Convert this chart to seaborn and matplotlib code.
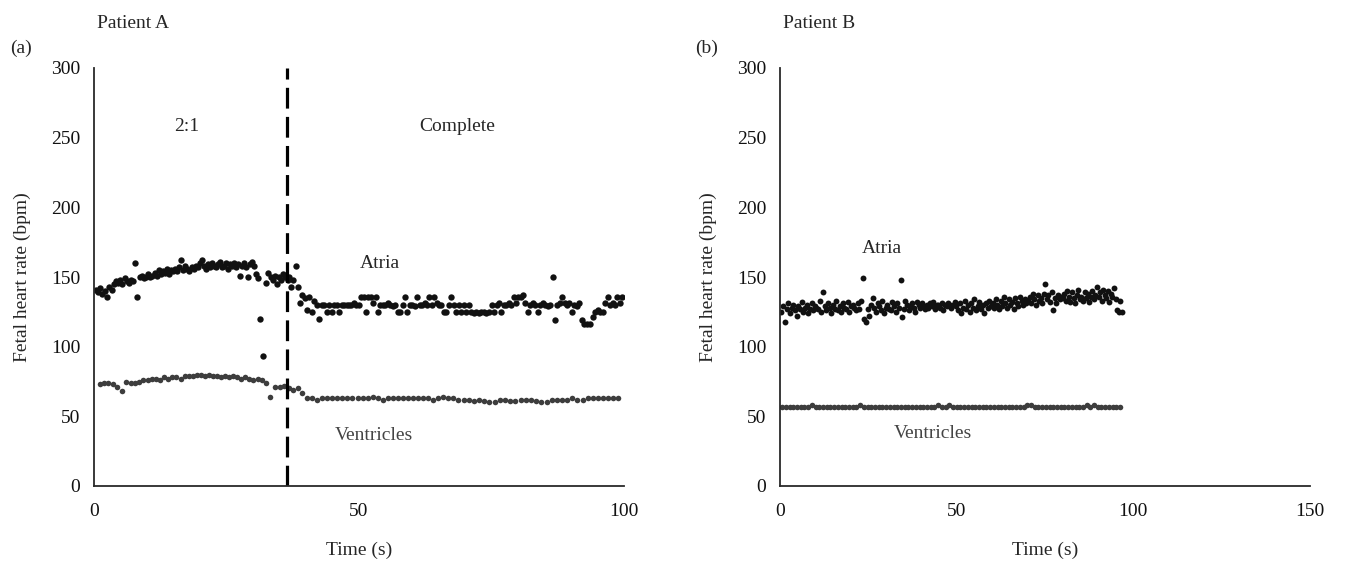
import numpy as np
import pandas as pd
import matplotlib
matplotlib.use("Agg")
import matplotlib.pyplot as plt
import seaborn as sns

# ---------------- data (instantaneous rates in bpm, read beat by beat) ----------------
# Patient A - atria during 2:1 block
a_atria_21 = [141, 139, 142, 138, 140, 136, 143, 141, 145,
              147, 146, 148, 145, 149, 147, 146, 148, 147,
              160, 136,
              150, 151, 149, 150, 152, 150, 151,
              153, 151, 155, 152, 154, 153, 156, 152, 155, 154,
              156, 154, 157, 162, 155, 158, 156, 154, 157, 156,
              158, 157, 160, 162, 158, 156, 159, 157, 160, 158, 157, 159, 161, 157, 158, 160, 156, 159,
              158, 160, 157, 159, 151, 158, 160, 157, 150, 159, 161, 158, 152,
              149, 120, 93,
              146, 153, 150, 148, 151, 145, 150, 148, 152, 150, 148]
# Patient A - atria during complete block
a_atria_cb = [150, 143, 148, 158, 143, 131,
              137, 135, 126, 136, 125, 133, 130, 120,
              130, 130, 125, 130, 125, 130, 130, 125, 130, 130, 130, 130, 130, 131, 130, 130,
              136, 136, 125, 136, 136, 131, 136, 125, 130,
              130, 130, 131, 130, 129, 130, 125, 125, 130, 136, 125, 130, 130, 129,
              136, 130, 130, 131, 130, 136, 130, 136, 131, 130, 130, 125, 125, 130,
              136, 130, 125, 130, 125, 130, 125, 130, 125, 124, 125, 124, 125, 125,
              124, 125, 130, 125, 130, 131, 125, 130,
              130, 131, 130, 136, 131, 136, 136, 137, 131, 125, 130, 131, 130, 125,
              130, 131, 130, 129, 130,
              150, 119,
              130, 131, 136, 131, 130, 131, 125, 130, 129, 131, 119, 116, 116, 116,
              121, 125, 126, 125, 125, 131, 136, 130, 131, 130, 136, 131, 136]
# Patient A - ventricles
a_vent = [73, 74, 74, 73, 71, 68, 75, 74, 74, 75, 76, 76, 77, 77, 76, 78, 77, 78, 78, 77,
          79, 79, 79, 80, 80, 79, 80, 79, 79, 78, 79, 78, 79, 78, 77, 78, 77, 76, 77, 76,
          74, 64, 71, 71, 72,
          70, 69, 70, 67,
          63, 63, 62, 63, 63, 63, 63, 63, 63, 63, 63, 63, 63, 64, 63, 62, 63, 63, 63, 63,
          63, 63, 63, 63, 63, 62, 63, 64, 63, 63, 62, 62, 62, 61, 62, 61, 60, 60, 62, 62,
          61, 61, 62, 62, 62, 61, 60, 60, 62, 62, 62, 62, 63, 62, 62, 63, 63, 63, 63, 63, 63, 63]

# Patient B - atria
b_atria = [125, 129, 118, 127, 131, 124, 128, 130, 126, 122, 129, 127, 132, 125, 128, 130, 124, 127, 131, 126, 129, 128,
           127, 133, 125, 139, 129, 126, 131, 128, 124, 130, 127, 133, 126, 129, 125, 131, 128, 127, 132, 125, 129, 130,
           128, 126, 131, 127, 133, 149, 120, 118, 127, 122, 130, 135, 128, 125, 131, 129, 126, 133, 124, 128, 130, 127,
           126, 132, 129, 125, 131, 128, 148, 121, 127, 133, 130, 126, 129, 131, 128, 125, 132, 130, 128, 131, 129, 127,
           130, 128, 131, 129, 132, 127, 130, 130, 128, 131, 126, 130, 129, 131, 130, 128, 130, 132,
           129, 126, 131, 124, 128, 133, 127, 130, 125, 131, 128, 134, 126, 129, 132, 127, 130, 124, 131, 128, 133, 129,
           131, 128, 134, 130, 127, 133, 129, 136, 131, 128, 134, 130, 132, 127, 135, 131, 129, 136, 133, 130, 134, 131,
           133, 136, 131, 138, 134, 130, 137, 133, 135, 131, 138, 145, 134, 137, 132, 139, 126, 135, 131, 137, 134, 136,
           135, 138, 133, 140, 136, 132, 139, 135, 131, 137, 141, 134, 136, 133, 139, 135, 138, 132, 136, 140, 134, 137,
           143, 136, 139, 133, 141, 137, 135, 140, 132, 138, 136, 142, 134, 126, 125, 133, 125]
# Patient B - ventricles
b_vent = [57] * 8 + [58] + [57] * 12 + [58] + [57] * 20 + [58, 57, 57, 58] + [57] * 20 + [58, 58] + [57] * 14 + [58, 57, 58] + [57] * 7

block_change_s = 36.4
x_ticks_a = [0, 50, 100]
x_ticks_b = [0, 50, 100, 150]
y_ticks = [0, 50, 100, 150, 200, 250, 300]


def beat_times(t0, rates):
    """Time of each beat: successive beats are separated by 60/rate seconds."""
    r = np.asarray(rates, dtype=float)
    return t0 + np.concatenate([[0.0], np.cumsum(60.0 / r[:-1])])


def frame(t0, rates, label):
    return pd.DataFrame({"t": beat_times(t0, rates), "bpm": rates, "chamber": label})


dfA_atria = pd.concat([frame(0.3, a_atria_21, "Atria"), frame(36.8, a_atria_cb, "Atria")])
dfA_vent = frame(1.1, a_vent, "Ventricles")
dfB_atria = frame(0.4, b_atria, "Atria")
dfB_vent = frame(0.6, b_vent, "Ventricles")

# ---------------- style ----------------
sns.set_style("white")
plt.rcParams["font.family"] = ["Liberation Serif", "DejaVu Serif"]
plt.rcParams["font.size"] = 13

AXC = "#2a2a2a"
ATRIA_C = "#111111"
VENT_C = "#3d3d3d"

fig = plt.figure(figsize=(13.45, 5.63), dpi=100)
W, H = 1345, 563
axA = fig.add_axes([94 / W, 1 - 486 / H, (624 - 94) / W, (486 - 68) / H])
axB = fig.add_axes([780 / W, 1 - 486 / H, (1310 - 780) / W, (486 - 68) / H])

sns.scatterplot(data=dfA_atria, x="t", y="bpm", ax=axA, color=ATRIA_C, s=21, linewidth=0, legend=False)
sns.scatterplot(data=dfA_vent, x="t", y="bpm", ax=axA, color=VENT_C, s=16, linewidth=0, legend=False)
sns.scatterplot(data=dfB_atria, x="t", y="bpm", ax=axB, color=ATRIA_C, s=18, linewidth=0, legend=False)
sns.scatterplot(data=dfB_vent, x="t", y="bpm", ax=axB, color=VENT_C, s=16, linewidth=0, legend=False)

axA.plot([block_change_s, block_change_s], [0, 300], color="black", lw=2.3, dashes=(6.5, 2.6), zorder=1)

for ax, xt, xmax in [(axA, x_ticks_a, 100), (axB, x_ticks_b, 150)]:
    ax.set_xlim(0, xmax)
    ax.set_ylim(0, 300)
    ax.set_xticks(xt)
    ax.set_yticks(y_ticks)
    for side in ["top", "right"]:
        ax.spines[side].set_visible(False)
    for side in ["left", "bottom"]:
        ax.spines[side].set_color(AXC)
        ax.spines[side].set_linewidth(1.3)
    ax.tick_params(axis="both", direction="in", length=4, width=1.1, color=AXC,
                   labelsize=14, labelcolor="#111111")
    ax.tick_params(axis="y", pad=10)
    ax.tick_params(axis="x", pad=12)
    ax.set_xlabel("Time (s)", fontsize=14)
    ax.set_ylabel("Fetal heart rate (bpm)", fontsize=14)
    ax.xaxis.set_label_coords(0.5, -0.155)
    ax.xaxis.label.set_va("center")
    ax.yaxis.set_label_coords(-0.136, 0.5)
    ax.yaxis.label.set_va("center")
    ax.set_facecolor("white")

axA.text(17.5, 258, "2:1", ha="center", va="center", fontsize=14)
axA.text(68.5, 258, "Complete", ha="center", va="center", fontsize=14)
axA.text(54.0, 160, "Atria", ha="center", va="center", fontsize=14)
axA.text(52.9, 36.6, "Ventricles", ha="center", va="center", fontsize=14, color="#444444")
axB.text(28.7, 170.5, "Atria", ha="center", va="center", fontsize=14)
axB.text(43.4, 38, "Ventricles", ha="center", va="center", fontsize=14, color="#444444")

fig.text(97 / W, 1 - 24 / H, "Patient A", ha="left", va="center", fontsize=14)
fig.text(10 / W, 1 - 48 / H, "(a)", ha="left", va="center", fontsize=14)
fig.text(783 / W, 1 - 24 / H, "Patient B", ha="left", va="center", fontsize=14)
fig.text(695 / W, 1 - 48 / H, "(b)", ha="left", va="center", fontsize=14)

fig.savefig("out.png", dpi=100, facecolor="white")
